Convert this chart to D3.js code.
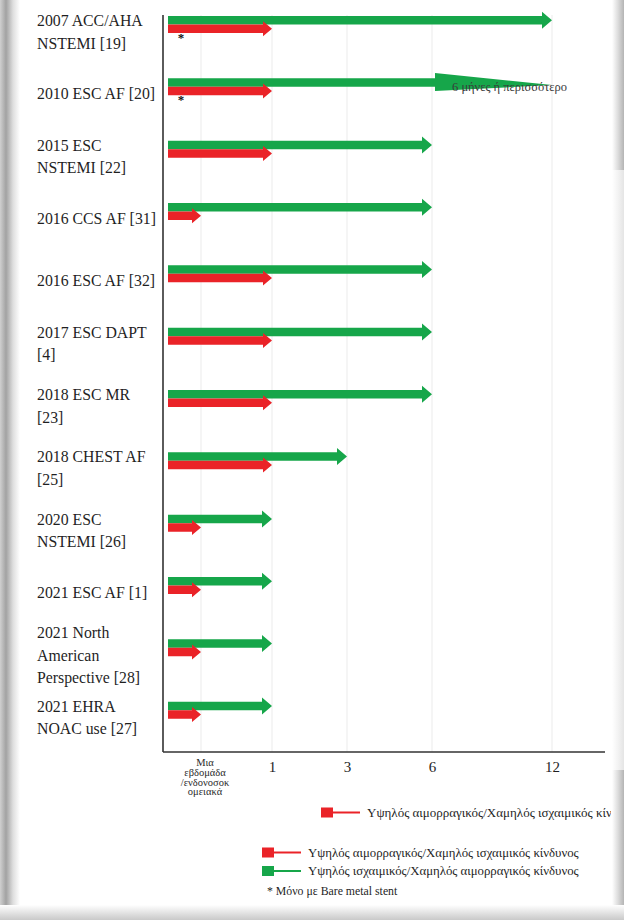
<!DOCTYPE html>
<html>
<head>
<meta charset="utf-8">
<script src="https://cdn.jsdelivr.net/npm/d3@7"></script>
<style>
  html, body { margin: 0; padding: 0; background: #fff; }
  svg { display: block; font-family: "Liberation Serif", "DejaVu Serif", serif; }
</style>
</head>
<body>
<div id="chart"></div>
<script>
// guideline labels (one entry per line of text)
const guidelines = [
  ["2007 ACC/AHA", "NSTEMI [19]"],
  ["2010 ESC AF [20]"],
  ["2015 ESC", "NSTEMI [22]"],
  ["2016 CCS AF [31]"],
  ["2016 ESC AF [32]"],
  ["2017 ESC DAPT", "[4]"],
  ["2018 ESC MR", "[23]"],
  ["2018 CHEST AF", "[25]"],
  ["2020 ESC", "NSTEMI [26]"],
  ["2021 ESC AF [1]"],
  ["2021 North", "American", "Perspective [28]"],
  ["2021 EHRA", "NOAC use [27]"]
];

// durations in months (0.25 = one week / in-hospital)
const highIschemic = [12, 6, 6, 6, 6, 6, 6, 3, 1, 1, 1, 1];
const highBleeding = [1, 1, 1, 0.25, 1, 1, 1, 1, 0.25, 0.25, 0.25, 0.25];
const openEnded = [false, true, false, false, false, false, false, false, false, false, false, false];
const bareMetalOnly = [true, true, false, false, false, false, false, false, false, false, false, false];

const tickValues = [0.25, 1, 3, 6, 12];
const weekLabel = ["Μια", "εβδομάδα", "/ενδονοσοκ", "ομειακά"];
const openLabel = "6 μήνες ή περισσότερο";

const legendRed = "Υψηλός αιμορραγικός/Χαμηλός ισχαιμικός κίνδυνος";
const legendGreen = "Υψηλός ισχαιμικός/Χαμηλός αιμορραγικός κίνδυνος";
const footnote = "* Μόνο με Bare metal stent";

const green = "#16a64a";
const red = "#ea2328";

const width = 624;
const height = 920;
const axisY = 752;
const axisX = 163;

const svg = d3
  .select("#chart")
  .append("svg")
  .attr("width", width)
  .attr("height", height);

const defs = svg.append("defs");

// page shadows
function gradient(id, x2, y2, stops) {
  const g = defs.append("linearGradient").attr("id", id)
    .attr("x1", 0).attr("y1", 0).attr("x2", x2).attr("y2", y2);
  stops.forEach(([o, c]) => g.append("stop").attr("offset", o).attr("stop-color", c));
}
gradient("shadeLeft", 1, 0, [[0, "#d0d0d0"], [0.3, "#a2a2a2"], [0.65, "#dedede"], [1, "#ffffff"]]);
gradient("shadeRight", 1, 0, [[0, "#ffffff"], [0.5, "#dcdcdc"], [1, "#b4b4b4"]]);
gradient("shadeBottom", 0, 1, [[0, "#ffffff"], [1, "#c9c9c9"]]);

defs.append("clipPath").attr("id", "page")
  .append("rect").attr("x", 0).attr("y", 0).attr("width", 611).attr("height", height);

const x = d3
  .scaleLinear()
  .domain([0, 0.25, 1, 3, 6, 12])
  .range([168, 201, 272, 347, 432, 552]);

const y = d3
  .scaleBand()
  .domain(d3.range(guidelines.length))
  .range([4, axisY]);

const shaft = 8.5;

// grid
svg.append("g")
  .selectAll("line")
  .data(tickValues)
  .join("line")
  .attr("x1", (d) => x(d))
  .attr("x2", (d) => x(d))
  .attr("y1", 15)
  .attr("y2", axisY)
  .attr("stroke", "#ebebeb")
  .attr("stroke-width", 1);

function arrow(x0, xt, cy, h, H, L, tipDy = 0, topH = H) {
  const p = d3.path();
  p.moveTo(x0, cy - h);
  p.lineTo(xt - L, cy - h);
  p.lineTo(xt - L, cy - topH);
  p.lineTo(xt, cy + tipDy);
  p.lineTo(xt - L, cy + H);
  p.lineTo(xt - L, cy + h);
  p.lineTo(x0, cy + h);
  p.closePath();
  return p.toString();
}

const rows = guidelines.map((label, i) => ({
  i,
  label,
  green: highIschemic[i],
  red: highBleeding[i],
  open: openEnded[i],
  bms: bareMetalOnly[i]
}));

// green arrows
svg.append("g")
  .selectAll("path")
  .data(rows)
  .join("path")
  .attr("fill", green)
  .attr("d", (d) => {
    const cy = y(d.i) + 12 + shaft / 2;
    if (d.open) {
      return arrow(x(0), x(12), cy, shaft / 2, 8.5, x(12) - x(d.green) - 3, 2.5, 9.5);
    }
    return arrow(x(0), x(d.green), cy, shaft / 2, 8.5, 10);
  });

// red arrows
svg.append("g")
  .selectAll("path")
  .data(rows)
  .join("path")
  .attr("fill", red)
  .attr("d", (d) => {
    const cy = y(d.i) + 12 + shaft * 1.5;
    return arrow(x(0), x(d.red), cy, shaft / 2, 7.5, 9);
  });

// asterisks (bare metal stent only)
svg.append("g")
  .selectAll("text")
  .data(rows.filter((d) => d.bms))
  .join("text")
  .attr("x", 181)
  .attr("y", (d) => y(d.i) + 12 + shaft * 2 + 9)
  .attr("text-anchor", "middle")
  .attr("font-size", 13)
  .attr("font-weight", "bold")
  .attr("fill", "#111")
  .text("*");

// open-ended note
rows.filter((d) => d.open).forEach((d) => {
  svg.append("text")
    .attr("x", x(6) + 20)
    .attr("y", y(d.i) + 12 + shaft + 4)
    .attr("font-size", 12.5)
    .attr("fill", "#3a3a3a")
    .text(openLabel);
});

// row labels
const labels = svg.append("g")
  .selectAll("text")
  .data(rows)
  .join("text")
  .attr("font-size", 15.8)
  .attr("fill", "#1f1f1f")
  .attr("y", (d) => y(d.i) + 12 + 16 + 5 - (d.label.length - 1) * 11);

labels.selectAll("tspan")
  .data((d) => d.label)
  .join("tspan")
  .attr("x", 37)
  .attr("dy", (d, j) => (j === 0 ? 0 : 22.5))
  .text((d) => d);

// axes
const xAxis = svg.append("g")
  .attr("transform", `translate(0,${axisY})`)
  .call(d3.axisBottom(x).tickValues(tickValues.slice(1)).tickSize(0).tickPadding(9).tickFormat(d3.format("d")));
xAxis.select(".domain").remove();
xAxis.attr("font-family", null);
xAxis.selectAll("text")
  .attr("font-size", 15)
  .attr("fill", "#1f1f1f");

svg.append("text")
  .attr("text-anchor", "middle")
  .attr("font-size", 10.5)
  .attr("fill", "#2a2a2a")
  .selectAll("tspan")
  .data(weekLabel)
  .join("tspan")
  .attr("x", x(0.25) + 4)
  .attr("y", (d, j) => axisY + 14 + j * 9.8)
  .text((d) => d);

svg.append("line")
  .attr("x1", axisX).attr("x2", axisX)
  .attr("y1", 15).attr("y2", axisY)
  .attr("stroke", "#333").attr("stroke-width", 1.6);
svg.append("line")
  .attr("x1", axisX).attr("x2", 605)
  .attr("y1", axisY).attr("y2", axisY)
  .attr("stroke", "#333").attr("stroke-width", 1.6);

// legends
function legendItem(g, cx, cy, color, text, size) {
  g.append("rect").attr("x", cx).attr("y", cy - 5).attr("width", 12).attr("height", 10).attr("fill", color);
  g.append("line").attr("x1", cx + 12).attr("x2", cx + 39).attr("y1", cy).attr("y2", cy)
    .attr("stroke", color).attr("stroke-width", 2);
  g.append("text").attr("x", cx + 46).attr("y", cy + 4).attr("font-size", size).attr("fill", "#1f1f1f").text(text);
}

const legendTop = svg.append("g").attr("clip-path", "url(#page)");
legendItem(legendTop, 321, 812.5, red, legendRed, 13);

const legendBottom = svg.append("g");
legendItem(legendBottom, 262, 852.5, red, legendRed, 12.8);
legendItem(legendBottom, 262, 871, green, legendGreen, 12.8);

svg.append("text")
  .attr("x", 267)
  .attr("y", 895)
  .attr("font-size", 11.8)
  .attr("fill", "#1f1f1f")
  .text(footnote);

// page shadows
svg.append("rect").attr("x", 0).attr("y", 0).attr("width", 20).attr("height", height).attr("fill", "url(#shadeLeft)");
svg.append("rect").attr("x", 612).attr("y", 0).attr("width", 12).attr("height", 170).attr("fill", "url(#shadeRight)");
svg.append("rect").attr("x", 612).attr("y", 170).attr("width", 12).attr("height", 600).attr("fill", "url(#shadeRight)").attr("opacity", 0.35);
svg.append("rect").attr("x", 612).attr("y", 770).attr("width", 12).attr("height", 150).attr("fill", "url(#shadeRight)");
svg.append("rect").attr("x", 0).attr("y", 905).attr("width", width).attr("height", 15).attr("fill", "url(#shadeBottom)");
</script>
</body>
</html>
